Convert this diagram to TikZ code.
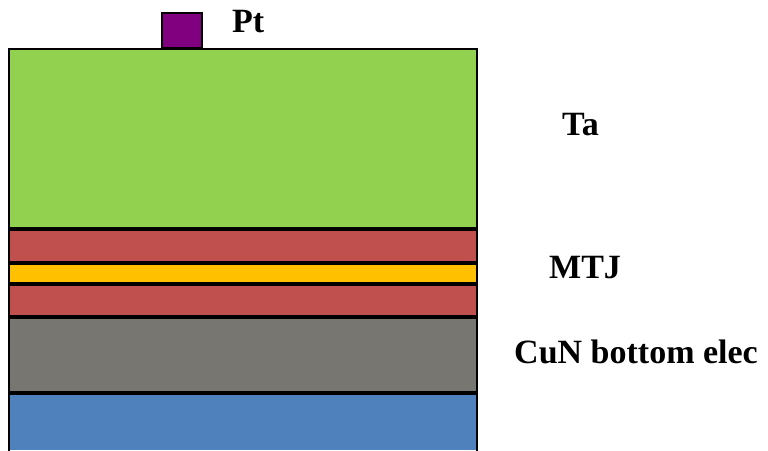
\documentclass[tikz,border=0pt]{standalone}
\usepackage{fontspec}
\setmainfont{Liberation Serif}
\definecolor{cgreen}{HTML}{92D050}
\definecolor{cred}{HTML}{C0504D}
\definecolor{cyellow}{HTML}{FFC000}
\definecolor{cgray}{HTML}{777670}
\definecolor{cblue}{HTML}{4F81BD}
\definecolor{cpurple}{HTML}{800080}
\begin{document}
\begin{tikzpicture}[x=1pt,y=-1pt,
  layer/.style={draw=black,line width=1.6pt},
  lbl/.style={anchor=base west,inner sep=0pt,font=\fontsize{34}{37}\selectfont\bfseries}]
\useasboundingbox (0,0) rectangle (768,450);
\fill[white] (0,0) rectangle (768,450);
% layers
\draw[layer,fill=cgreen] (9,49) rectangle (477,228);
\draw[layer,fill=cred] (9,230) rectangle (477,262);
\draw[layer,fill=cyellow] (9,264) rectangle (477,283);
\draw[layer,fill=cred] (9,285) rectangle (477,316);
\draw[layer,fill=cgray] (9,318) rectangle (477,392);
\fill[cblue] (9,394) rectangle (477,450);
\draw[layer] (9,451) -- (9,394) -- (477,394) -- (477,451);
\draw[layer,fill=cpurple] (162,13) rectangle (202,48);
% labels
\node[lbl] (pt) at (232,32) {Pt};
\node[lbl] (ta) at (562,135) {Ta};
\node[lbl] (mtj) at (549,278) {MTJ};
\node[lbl] (cun) at (514,363) {CuN bottom elec};
\end{tikzpicture}
\end{document}
